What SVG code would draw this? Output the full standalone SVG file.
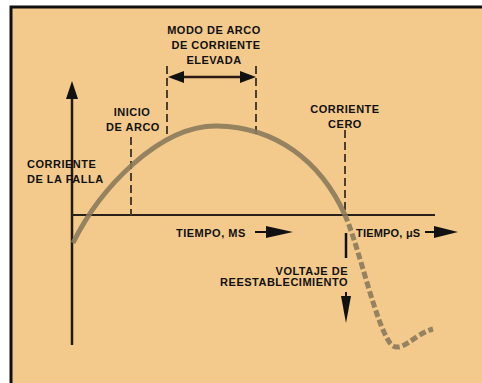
<svg xmlns="http://www.w3.org/2000/svg" width="482" height="383" viewBox="0 0 482 383">
<style>
.t{font-family:"Liberation Sans",Arial,sans-serif;font-weight:bold;font-size:11px;letter-spacing:0.5px;fill:#111}
.ax{stroke:#1e1a14;stroke-width:2.5;fill:none}
.dash{stroke:#4a3f30;stroke-width:2;stroke-dasharray:8,4;fill:none}
.ah{fill:#111}
</style>
<rect width="482" height="383" fill="#fff"/>
<rect x="11" y="7" width="471" height="376" fill="#F3CA8C"/>
<path d="M11,383 V7 H482" stroke="#111" stroke-width="3" fill="none"/>
<g id="connectors">
<line class="ax" x1="72" y1="96" x2="72" y2="345"/>
<polygon class="ah" points="72,81 66,99 78,99"/>
<line x1="72" y1="215" x2="435" y2="215" stroke="#2a2218" stroke-width="2"/>
<line class="dash" x1="131" y1="137" x2="131" y2="215"/>
<line class="dash" x1="167" y1="66" x2="167" y2="136"/>
<line class="dash" x1="256" y1="66" x2="256" y2="136"/>
<line class="dash" x1="345" y1="130" x2="345" y2="215"/>
<line x1="180" y1="77" x2="244" y2="77" stroke="#2a1a10" stroke-width="2.5"/>
<polygon class="ah" points="168,77 184,71 184,83"/>
<polygon class="ah" points="256,77 240,71 240,83"/>
<path d="M73,243 C100,188 160,125 217,126 C275,127 320,160 345,215" stroke="#8a7a5c" stroke-width="5" fill="none" opacity="0.9"/>
<path d="M345,215 C360,250 375,322 390,343 C400,356 414,334 433,329" stroke="#8a7a5c" stroke-width="5" fill="none" stroke-dasharray="7,3" opacity="0.9"/>
<line x1="255" y1="232" x2="270" y2="232" stroke="#111" stroke-width="2"/>
<polygon class="ah" points="293,232 266,226 266,238"/>
<line x1="425" y1="232" x2="438" y2="232" stroke="#111" stroke-width="2"/>
<polygon class="ah" points="458,232 434,226 434,238"/>
<line x1="346" y1="233" x2="346" y2="258" stroke="#111" stroke-width="2.5"/>
<line x1="346" y1="292" x2="346" y2="305" stroke="#111" stroke-width="2"/>
<polygon class="ah" points="346,323 341,296 351,296"/>
</g>
<g id="modo-arco">
<text class="t" x="214" y="34" text-anchor="middle">MODO DE ARCO</text>
<text class="t" x="216" y="49" text-anchor="middle">DE CORRIENTE</text>
<text class="t" x="214" y="64" text-anchor="middle">ELEVADA</text>
</g>
<g id="inicio-arco">
<text class="t" x="132" y="116" text-anchor="middle">INICIO</text>
<text class="t" x="133" y="131" text-anchor="middle">DE ARCO</text>
</g>
<g id="corriente-cero">
<text class="t" x="345" y="113" text-anchor="middle">CORRIENTE</text>
<text class="t" x="345" y="128" text-anchor="middle">CERO</text>
</g>
<g id="corriente-falla">
<text class="t" x="27" y="168">CORRIENTE</text>
<text class="t" x="27" y="183">DE LA FALLA</text>
</g>
<g id="tiempo-ms">
<text class="t" x="176" y="237">TIEMPO, MS</text>
</g>
<g id="tiempo-us">
<text class="t" x="356" y="237" style="letter-spacing:0.2px">TIEMPO, μS</text>
</g>
<g id="voltaje">
<text class="t" x="348" y="275" text-anchor="end">VOLTAJE DE</text>
<text class="t" x="348" y="286" text-anchor="end">REESTABLECIMIENTO</text>
</g>
</svg>
